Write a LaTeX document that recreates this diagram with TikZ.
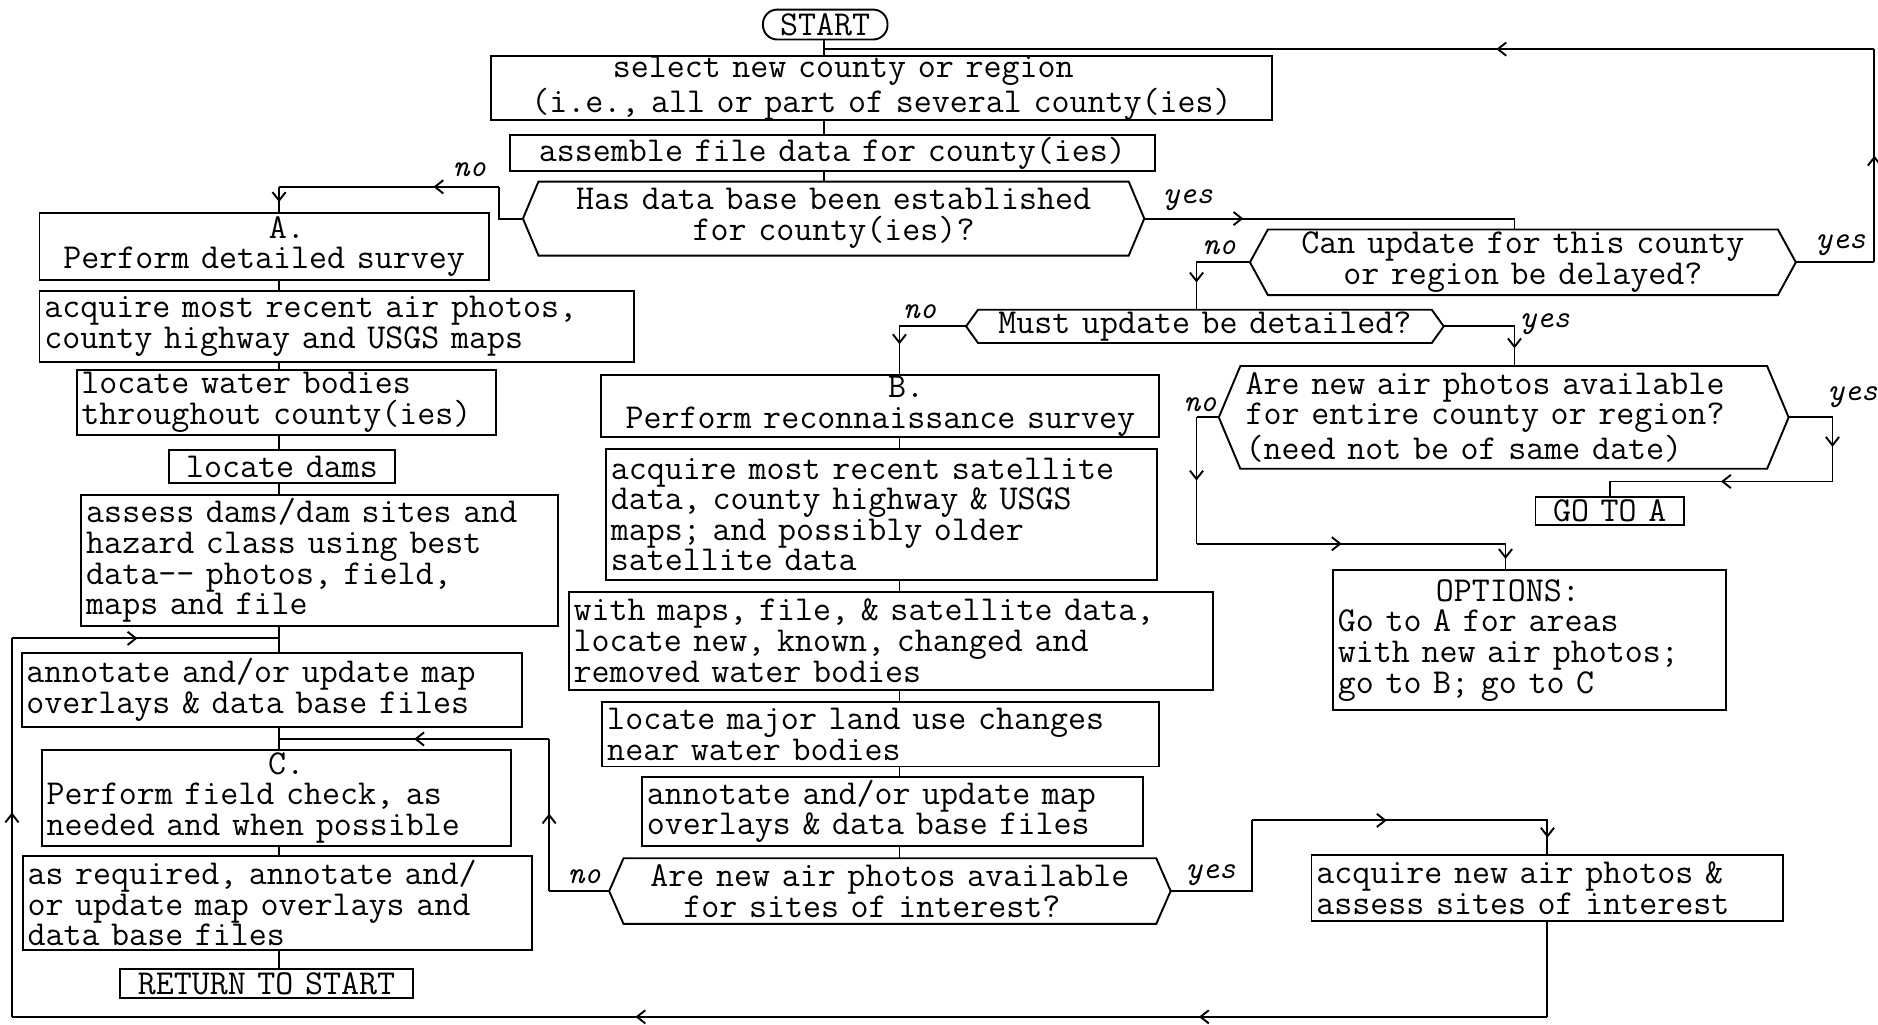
\documentclass[tikz,border=0pt]{standalone}
\usepackage{fontspec}
\usetikzlibrary{arrows.meta,decorations.markings}
\tikzset{
  box/.style={draw, rectangle, inner xsep=2pt, inner ysep=0pt, line width=0.8pt},
  hexnode/.style={rectangle, inner ysep=0pt},
  lab/.style={font=\fontsize{13.2}{13}\selectfont\ttfamily\itshape, inner sep=0pt},
  conn/.style={line width=0.8pt},
  amid/.style={postaction={decorate},decoration={markings,
      mark=at position #1 with {\arrow{Straight Barb[length=3.5pt,width=5.5pt]}}}},
  amidd/.style 2 args={postaction={decorate},decoration={markings,
      mark=at position #1 with {\arrow{Straight Barb[length=3.5pt,width=5.5pt]}},
      mark=at position #2 with {\arrow{Straight Barb[length=3.5pt,width=5.5pt]}}}},
}
% box: name, x1, y1, x2, y2, options, text
\newcommand\bx[7]{%
  \pgfmathsetmacro\bxW{(#4-#2)*0.5-4}%
  \pgfmathsetmacro\bxH{(#5-#3)*0.5}%
  \node[box,#6,text width=\bxW pt,minimum height=\bxH pt] (#1) at ({(#2+#4)/2},{(#3+#5)/2}) {#7};}
% hexagon: name, x1, y1, x2, y2, slant, options, text
\newcommand\hx[8]{%
  \pgfmathsetmacro\hxS{#6*0.5}%
  \pgfmathsetmacro\hxI{#6*0.5+2}%
  \pgfmathsetmacro\hxW{(#4-#2-2*#6)*0.5-4}%
  \pgfmathsetmacro\hxH{(#5-#3)*0.5}%
  \node[hexnode,#7,inner xsep=\hxI pt,text width=\hxW pt,minimum height=\hxH pt] (#1) at ({(#2+#4)/2},{(#3+#5)/2}) {#8};
  \draw[conn] ([xshift=\hxS pt]#1.north west) -- ([xshift=-\hxS pt]#1.north east) -- (#1.east)
     -- ([xshift=-\hxS pt]#1.south east) -- ([xshift=\hxS pt]#1.south west) -- (#1.west) -- cycle;}

\begin{document}
\begin{tikzpicture}[x=0.5pt,y=-0.5pt,font=\fontsize{14.6}{12.8}\selectfont\ttfamily]
\useasboundingbox (0,0) rectangle (1568,855);
\fill[white] (0,0) rectangle (1568,855);

% ---------- top ----------
\bx{start}{637}{8}{741}{33}{rounded corners=6pt,align=center}{START}
\bx{sel}{410}{47}{1062}{100}{align=center}{\makebox[\hsize]{select new county or region\hspace{32pt}}\\(i.e., all or part of several county(ies)}
\bx{asm}{426}{113}{964}{143}{align=center}{assemble file data for county(ies)}
\hx{hasdb}{437}{152}{955}{213}{13}{align=center}{Has data base been established\\for county(ies)?}

% ---------- right ----------
\hx{Can}{1044}{192}{1499}{246}{15}{align=center}{Can update for this county\\or region be delayed?}
\hx{must}{807}{259}{1205}{286}{10}{align=center}{Must update be detailed?}
\hx{entire}{1018}{306}{1493}{391}{18}{align=left}{Are new air photos available\\for entire county or region?\\(need not be of same date)}
\bx{goto}{1282}{415}{1406}{438}{align=center}{GO TO A}
\bx{opts}{1113}{476}{1441}{593}{align=left}{\makebox[\hsize]{OPTIONS:\hspace{18pt}}\\Go to A for areas\\with new air photos;\\go to B; go to C}

% ---------- left column ----------
\bx{A}{33}{178}{408}{234}{align=center}{\makebox[\hsize]{\hspace{19pt}A.}\\Perform detailed survey}
\bx{acqA}{33}{243}{529}{302}{align=left}{acquire most recent air photos,\\county highway and USGS maps}
\bx{water}{64}{309}{414}{363}{align=left}{locate water bodies\\throughout county(ies)}
\bx{dams}{141}{376}{330}{403}{align=center}{locate dams}
\bx{assess}{68}{413}{466}{523}{align=left}{assess dams/dam sites and\\hazard class using best\\data-{}- photos, field,\\maps and file}
\bx{annL}{18}{545}{436}{607}{align=left}{annotate and/or update map\\overlays \& data base files}
\bx{C}{35}{626}{427}{706}{align=left}{\makebox[\hsize]{\hspace{8pt}C.}\\Perform field check, as\\needed and when possible}
\bx{asreq}{19}{715}{444}{793}{align=left}{as required, annotate and/\\or update map overlays and\\data base files}
\bx{ret}{100}{809}{345}{833}{align=center}{RETURN TO START}

% ---------- middle column ----------
\bx{B}{502}{313}{968}{365}{align=center}{\makebox[\hsize]{\hspace{21.6pt}B.}\\Perform reconnaissance survey}
\bx{acqB}{506}{375}{966}{484}{align=left}{acquire most recent satellite\\data, county highway \& USGS\\maps; and possibly older\\satellite data}
\bx{withmaps}{475}{494}{1013}{576}{align=left}{with maps, file, \& satellite data,\\locate new, known, changed and\\removed water bodies}
\bx{land}{503}{586}{968}{640}{align=left}{locate major land use changes\\near water bodies}
\bx{annM}{536}{649}{954}{706}{align=left}{annotate and/or update map\\overlays \& data base files}
\hx{sites}{509}{717}{977}{771}{12}{align=center}{Are new air photos available\\\makebox[\hsize]{for sites of interest?\hspace{15pt}}}
\bx{acqN}{1095}{714}{1489}{769}{align=left}{acquire new air photos \&\\assess sites of interest}

% ---------- labels ----------
\node[lab] (l1) at (392,142) {no};
\node[lab] (l2) at (992,167) {yes};
\node[lab] (l3) at (1018,207) {no};
\node[lab] (l4) at (1537,205) {yes};
\node[lab] (l5) at (768,260) {no};
\node[lab] (l6) at (1290,271) {yes};
\node[lab] (l7) at (1002,338) {no};
\node[lab] (l8) at (1547,332) {yes};
\node[lab] (l9) at (488,732) {no};
\node[lab] (l10) at (1011,731) {yes};

% ---------- bend coordinates ----------
\coordinate (mc) at (688,0);
\coordinate (Lc) at (233,0);
\coordinate (bc) at (751,0);
\coordinate (yc) at (1264.5,0);
\coordinate (cn) at (999,0);
\coordinate (tr) at (1565,41);
\coordinate (tl) at (688,41);
\coordinate (n1) at (417,156);
\coordinate (n2) at (999,454);
\coordinate (n3) at (1257,454);
\coordinate (n4) at (1530,402);
\coordinate (n5) at (458.5,617);
\coordinate (n6) at (1045,685);
\coordinate (bl) at (10,849);
\coordinate (ul) at (10,533);

% ---------- connectors ----------
\draw[conn] (start.south -| mc) -- (sel.north -| mc);
\draw[conn] (sel.south -| mc) -- (asm.north -| mc);
\draw[conn] (asm.south -| mc) -- (hasdb.north -| mc);
% loop back to start
\draw[conn] (Can.east) -- (Can.east -| tr);
\draw[conn,amid=0.5] (Can.east -| tr) -- (tr);
\draw[conn,amid=0.36] (tr) -- (tl);
% data base: no
\draw[conn] (hasdb.west) -- (hasdb.west -| n1) -- (n1);
\draw[conn,amid=0.3] (n1) -- (Lc |- n1);
\draw[conn,amid=0.6] (Lc |- n1) -- (Lc |- A.north);
% data base: yes
\draw[conn,amid=0.26] (hasdb.east) -| (yc |- Can.north);
% delay: no
\draw[conn,amid=0.73] (Can.west) -| (cn |- must.north);
% detailed: no / yes
\draw[conn,amid=0.74] (must.west) -| (bc |- B.north);
\draw[conn,amid=0.84] (must.east) -| (yc |- entire.north);
% entire county: no
\draw[conn] (entire.west) -- (entire.west -| n2);
\draw[conn,amid=0.5] (entire.west -| n2) -- (n2);
\draw[conn,amid=0.47] (n2) -- (n3);
\draw[conn,amid=0.6] (n3) -- (n3 |- opts.north);
% entire county: yes
\draw[conn] (entire.east) -- (entire.east -| n4);
\draw[conn,amid=0.46] (entire.east -| n4) -- (n4);
\draw[conn,amid=0.47] (n4) -| (goto.north);
% left column
\draw[conn] (Lc |- A.south) -- (Lc |- acqA.north);
\draw[conn] (Lc |- acqA.south) -- (Lc |- water.north);
\draw[conn] (Lc |- water.south) -- (Lc |- dams.north);
\draw[conn] (Lc |- dams.south) -- (Lc |- assess.north);
\draw[conn] (Lc |- assess.south) -- (Lc |- annL.north);
\draw[conn] (Lc |- annL.south) -- (Lc |- C.north);
\draw[conn] (Lc |- C.south) -- (Lc |- asreq.north);
\draw[conn] (Lc |- asreq.south) -- (Lc |- ret.north);
% left loop
\draw[conn,amid=0.54] (bl) -- (ul);
\draw[conn,amid=0.47] (ul) -- (Lc |- ul);
% middle column
\draw[conn] (bc |- B.south) -- (bc |- acqB.north);
\draw[conn] (bc |- acqB.south) -- (bc |- withmaps.north);
\draw[conn] (bc |- withmaps.south) -- (bc |- land.north);
\draw[conn] (bc |- land.south) -- (bc |- annM.north);
\draw[conn] (bc |- annM.south) -- (bc |- sites.north);
% sites: no
\draw[conn] (sites.west) -- (sites.west -| n5);
\draw[conn,amid=0.51] (sites.west -| n5) -- (n5);
\draw[conn,amid=0.5] (n5) -- (Lc |- n5);
% sites: yes
\draw[conn] (sites.east) -- (sites.east -| n6) -- (n6);
\draw[conn,amidd={0.41}{0.95}] (n6) -| (acqN.north);
% bottom return line
\draw[conn] (acqN.south) -- (acqN.south |- bl);
\draw[conn,amidd={0.227}{0.594}] (acqN.south |- bl) -- (bl);
\end{tikzpicture}
\end{document}
